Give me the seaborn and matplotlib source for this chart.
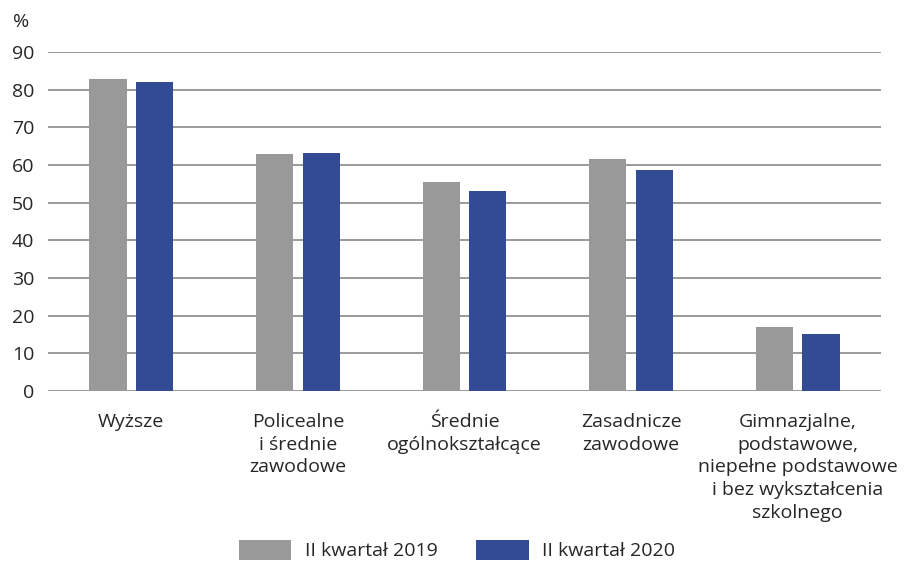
import seaborn as sns
import pandas as pd
import matplotlib.pyplot as plt

categories = [
    "Wyższe",
    "Policealne\ni średnie\nzawodowe",
    "Średnie\nogólnokształcące",
    "Zasadnicze\nzawodowe",
    "Gimnazjalne,\npodstawowe,\nniepełne podstawowe\ni bez wykształcenia\nszkolnego",
]
series = ["II kwartał 2019", "II kwartał 2020"]
values_2019 = [82.8, 62.9, 55.5, 61.6, 17.0]
values_2020 = [82.0, 63.2, 53.1, 58.7, 15.1]
colors = ["#999999", "#334a94"]

rows = []
for cat, v19, v20 in zip(categories, values_2019, values_2020):
    rows.append({"kat": cat, "okres": series[0], "val": v19})
    rows.append({"kat": cat, "okres": series[1], "val": v20})
df = pd.DataFrame(rows)

sns.set_style("white")
plt.rcParams["font.family"] = ["Open Sans", "DejaVu Sans"]

fig = plt.figure(figsize=(9.05, 5.61), dpi=100)
ax = fig.add_axes([48 / 905, 1 - 391 / 561, 833 / 905, 339 / 561])

sns.barplot(data=df, x="kat", y="val", hue="okres", palette=colors,
            width=0.56, gap=0.2, ax=ax, saturation=1, errorbar=None,
            linewidth=0)

ax.set_ylim(0, 90)
ax.set_yticks(range(0, 91, 10))
ax.set_xlim(-0.5, len(categories) - 0.5)
ax.yaxis.grid(True, color="#9a9a9a", linewidth=1.4)
ax.set_axisbelow(True)
for s in ax.spines.values():
    s.set_visible(False)
ax.set_xlabel("")
ax.set_ylabel("")
ax.tick_params(axis="y", length=0, pad=10, labelsize=14)
ax.tick_params(axis="x", length=0, pad=16, labelsize=14)
for lbl in ax.get_xticklabels():
    lbl.set_multialignment("center")
    lbl.set_linespacing(1.33)

fig.text(13 / 905, 1 - 22 / 561, "%", fontsize=14, va="center", ha="left")

handles, labels = ax.get_legend_handles_labels()
ax.get_legend().remove()
fig.legend(handles, labels, loc="lower center", bbox_to_anchor=(0.505, -0.03),
           ncol=2, frameon=False, fontsize=14, handlelength=2.7,
           handleheight=1.2, columnspacing=2.0, handletextpad=0.7)

plt.savefig("out.png", dpi=100)
